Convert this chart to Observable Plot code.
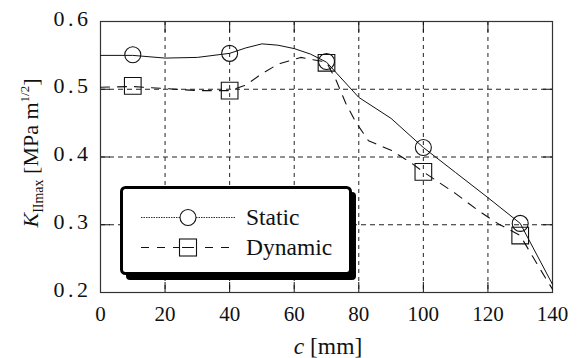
<!DOCTYPE html>
<html>
<head>
<meta charset="utf-8">
<script src="https://cdn.jsdelivr.net/npm/d3@7"></script>
<script src="https://cdn.jsdelivr.net/npm/@observablehq/plot@0.6"></script>
<style>
  html, body { margin: 0; padding: 0; background: #fff; }
  #chart { width: 580px; height: 358px; }
  #chart svg, #chart svg text { font-family: 'Liberation Serif', 'Times New Roman', 'DejaVu Serif', serif !important; }
</style>
</head>
<body>
<div id="chart"></div>
<script>
// ---- data ----
const markerC = [10, 40, 70, 100, 130];
const staticK = [0.551, 0.553, 0.541, 0.414, 0.302];
const dynamicK = [0.505, 0.498, 0.539, 0.378, 0.284];

const staticCurveC = [0, 10, 20, 30, 40, 45, 50, 55, 60, 65, 70, 80, 90, 100, 110, 120, 130, 140];
const staticCurveK = [0.550, 0.550, 0.546, 0.547, 0.553, 0.561, 0.567, 0.565, 0.560, 0.552, 0.540, 0.488, 0.457, 0.414, 0.377, 0.340, 0.302, 0.212];

const dynamicCurveC = [0, 10, 20, 30, 40, 45, 50, 55, 62, 70, 73, 76, 79, 83, 90, 96, 100, 110, 117, 123, 130, 134, 138, 140];
const dynamicCurveK = [0.503, 0.504, 0.501, 0.498, 0.498, 0.506, 0.523, 0.537, 0.547, 0.540, 0.513, 0.479, 0.452, 0.424, 0.410, 0.392, 0.378, 0.346, 0.321, 0.302, 0.284, 0.252, 0.220, 0.205];

const xTicks = [0, 20, 40, 60, 80, 100, 120, 140];
const yTicks = [0.2, 0.3, 0.4, 0.5, 0.6];
const xGrid = [20, 40, 60, 80, 100, 120];
const yGrid = [0.3, 0.4, 0.5];

const seriesNames = ["Static", "Dynamic"];

// ---- tables ----
const staticCurve = staticCurveC.map((c, i) => ({c, k: staticCurveK[i]}));
const dynamicCurve = dynamicCurveC.map((c, i) => ({c, k: dynamicCurveK[i]}));
const staticPts = markerC.map((c, i) => ({c, k: staticK[i]}));
const dynamicPts = markerC.map((c, i) => ({c, k: dynamicK[i]}));

const W = 580, H = 358;
const SERIF = "'Liberation Serif', 'Times New Roman', 'DejaVu Serif', serif";

const plot = Plot.plot({
  width: W,
  height: H,
  marginLeft: 100,
  marginRight: 28,
  marginTop: 21,
  marginBottom: 66,
  style: {fontFamily: SERIF, background: "white", overflow: "visible"},
  x: {domain: [0, 140], label: null},
  y: {domain: [0.2, 0.6], label: null},
  marks: [
    Plot.gridX(xGrid, {stroke: "#222", strokeOpacity: 1, strokeDasharray: "4,4", strokeWidth: 1}),
    Plot.gridY(yGrid, {stroke: "#222", strokeOpacity: 1, strokeDasharray: "5,4", strokeWidth: 1}),
    // inward ticks on all four sides
    Plot.axisX(xTicks, {anchor: "bottom", tickSize: -10, tickFormat: () => "", label: null, stroke: "#111"}),
    Plot.axisX(xTicks, {anchor: "top", tickSize: -10, tickFormat: () => "", label: null, stroke: "#111"}),
    Plot.axisY(yTicks, {anchor: "left", tickSize: -10, tickFormat: () => "", label: null, stroke: "#111"}),
    Plot.axisY(yTicks, {anchor: "right", tickSize: -10, tickFormat: () => "", label: null, stroke: "#111"}),
    // tick labels
    Plot.axisX(xTicks, {anchor: "bottom", tickSize: 0, tickPadding: 14, tickFormat: d => String(d), label: null, fontSize: 21, fill: "#111", fontFamily: SERIF}),
    Plot.axisY(yTicks, {anchor: "left", tickSize: 0, tickPadding: 9, tickFormat: d3.format(".1f"), label: null, fontSize: 22, fill: "#111", fontFamily: SERIF, dy: -3}),
    Plot.frame({stroke: "#333", strokeWidth: 1.2}),
    Plot.line(staticCurve, {x: "c", y: "k", curve: "linear", stroke: "#111", strokeWidth: 1}),
    Plot.line(dynamicCurve, {x: "c", y: "k", curve: "linear", stroke: "#111", strokeWidth: 1.1, strokeDasharray: "9,8"}),
    Plot.dot(staticPts, {x: "c", y: "k", symbol: "circle", r: 8, stroke: "#111", strokeWidth: 1.1, fill: "none"}),
    Plot.dot(dynamicPts, {x: "c", y: "k", symbol: "square", r: 9.4, stroke: "#111", strokeWidth: 1.1, fill: "none"})
  ]
});

document.getElementById("chart").appendChild(plot);

const svg = d3.select(plot);

// wider spacing of the y tick labels, as in the original
svg.selectAll('g[aria-label="y-axis tick label"] text').attr("letter-spacing", 3.5);

function txt(sel) {
  return sel.append("text").attr("font-family", SERIF).attr("fill", "#111").attr("text-anchor", "start");
}

// x label: c [mm]
const xl = txt(svg).attr("x", 328).attr("y", 354).attr("text-anchor", "middle").attr("font-size", 23.5);
xl.append("tspan").attr("font-style", "italic").text("c");
xl.append("tspan").text(" [mm]");

// y label: K_IImax [MPa m^1/2]
const yl = txt(svg).attr("transform", "translate(38,153) rotate(-90)").attr("text-anchor", "middle").attr("font-size", 22);
yl.append("tspan").attr("font-style", "italic").text("K");
yl.append("tspan").attr("font-size", 14).attr("dy", 5).text("IImax");
yl.append("tspan").attr("dy", -5).text(" [MPa m");
yl.append("tspan").attr("font-size", 13).attr("dy", -9).text("1/2");
yl.append("tspan").attr("dy", 9).text("]");

// legend box with drop shadow
const lg = svg.append("g");
lg.append("rect").attr("x", 126).attr("y", 192).attr("width", 230).attr("height", 88).attr("rx", 4).attr("fill", "#000");
lg.append("rect").attr("x", 121.5).attr("y", 187.5).attr("width", 229).attr("height", 86).attr("rx", 4)
  .attr("fill", "white").attr("stroke", "#000").attr("stroke-width", 3);

// Static entry
lg.append("line").attr("x1", 141).attr("x2", 235).attr("y1", 217.5).attr("y2", 217.5)
  .attr("stroke", "#333").attr("stroke-width", 1).attr("stroke-dasharray", "1.5,1");
lg.append("circle").attr("cx", 188).attr("cy", 217.5).attr("r", 8).attr("fill", "white").attr("stroke", "#111").attr("stroke-width", 1.1);
txt(lg).attr("x", 246).attr("y", 225).attr("font-size", 23.5).text(seriesNames[0]);

// Dynamic entry
lg.append("line").attr("x1", 141).attr("x2", 235).attr("y1", 247.5).attr("y2", 247.5)
  .attr("stroke", "#111").attr("stroke-width", 1.1).attr("stroke-dasharray", "8,8");
lg.append("rect").attr("x", 179.5).attr("y", 239).attr("width", 17).attr("height", 17).attr("fill", "white").attr("stroke", "#111").attr("stroke-width", 1.1);
lg.append("line").attr("x1", 182).attr("x2", 194).attr("y1", 247.5).attr("y2", 247.5).attr("stroke", "#111").attr("stroke-width", 1);
txt(lg).attr("x", 246).attr("y", 255).attr("font-size", 23.5).text(seriesNames[1]);
</script>
</body>
</html>
